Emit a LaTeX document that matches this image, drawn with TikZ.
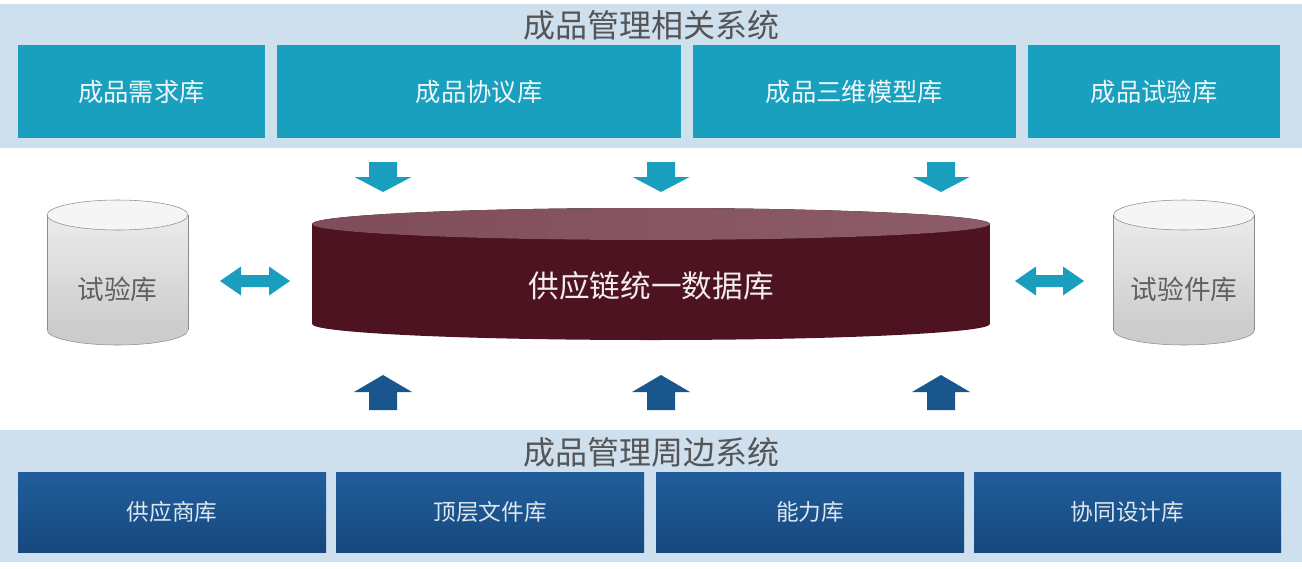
\documentclass[tikz,border=0pt]{standalone}
\usepackage{fontspec}
\setmainfont{Noto Sans CJK SC}
\definecolor{bandblue}{RGB}{206,223,238}
\definecolor{topteal}{RGB}{24,160,190}
\definecolor{arrteal}{RGB}{26,158,190}
\definecolor{lowtop}{RGB}{33,94,155}
\definecolor{lowbot}{RGB}{22,72,126}
\definecolor{uparrow}{RGB}{26,86,142}
\definecolor{dbbody}{RGB}{78,19,32}
\definecolor{dbtop}{RGB}{140,92,104}
\definecolor{titlegray}{RGB}{85,85,85}
\definecolor{cyledge}{RGB}{140,140,140}
\begin{document}
\begin{tikzpicture}[x=0.75pt, y=-0.75pt,
	topbox/.style={fill=topteal, text=white!92!topteal, inner sep=0pt, minimum height=69.75pt, font=\fontsize{19}{19}\selectfont},
	lowbox/.style={top color=lowtop, bottom color=lowbot, text=white!85!lowtop, inner sep=0pt, minimum height=60pt, font=\fontsize{17}{17}\selectfont},
	title/.style={text=titlegray, inner sep=0pt, font=\fontsize{24}{24}\selectfont},
	cyltext/.style={text=gray!75!black, inner sep=0pt, font=\fontsize{20}{20}\selectfont}]
		\useasboundingbox (0,0) rectangle (1302,568);
		% bands
		\fill[bandblue] (0,4) rectangle (1302,148);
		\fill[bandblue] (0,430) rectangle (1302,562);
		\node[title] (toptitle) at (651,25) {成品管理相关系统};
		\node[title] (lowtitle) at (651,452) {成品管理周边系统};
		\foreach \n/\a/\b/\t in {need/18/265/成品需求库, deal/277/681/成品协议库, model/693/1016/成品三维模型库, test/1028/1280/成品试验库}{
		\node[topbox, minimum width=(\b-\a)*0.75pt] (\n) at ({(\a+\b)/2},91.5) {\t};
		}
		\foreach \n/\a/\b/\t in {supp/18/326/供应商库, file/336/644/顶层文件库, abil/656/964/能力库, coop/974/1281/协同设计库}{
		\node[lowbox, minimum width=(\b-\a)*0.75pt] (\n) at ({(\a+\b)/2},512) {\t};
		}
		% database
		\fill[dbbody] (651,324) ellipse (339 and 16);
		\fill[dbbody] (312,224) rectangle (990,324);
		\fill[left color=dbtop!80!dbbody, right color=dbtop] (651,224) ellipse (339 and 16);
		\node[text=white!92!dbbody, inner sep=0pt, font=\fontsize{23}{23}\selectfont] (db) at (651,286) {供应链统一数据库};
		% side cylinders
		\foreach \n/\c/\t in {lab/117.5/试验库, piece/1184/试验件库}{
		\filldraw[cyledge, fill=gray!40] (\c,330) ellipse (70.5 and 15);
		\fill[top color=gray!15, bottom color=gray!40] (\c-70.5,215) rectangle (\c+70.5,330);
		\draw[cyledge] (\c-70.5,215)--(\c-70.5,330) (\c+70.5,215)--(\c+70.5,330);
		\filldraw[cyledge, fill=gray!8] (\c,215) ellipse (70.5 and 15);
		\node[cyltext] (\n) at (\c,289) {\t};
		}
		% arrows
		\foreach \x in {383,661,941}{
		\fill[arrteal] (\x-14,162)--(\x+14,162)--(\x+14,177)--(\x+28.5,177)--(\x,192)--(\x-28.5,177)--(\x-14,177)--cycle;
		\fill[uparrow] (\x,375)--(\x+29,392)--(\x+14,392)--(\x+14,410)--(\x-14,410)--(\x-14,392)--(\x-29,392)--cycle;
		}
		\foreach \a/\b in {220/290, 1015/1084}{
		\fill[arrteal] (\a,281)--(\a+21,266.5)--(\a+21,275)--(\b-21,275)--(\b-21,266.5)--(\b,281)--(\b-21,295.5)--(\b-21,287)--(\a+21,287)--(\a+21,295.5)--cycle;
		}
	\end{tikzpicture}
\end{document}
